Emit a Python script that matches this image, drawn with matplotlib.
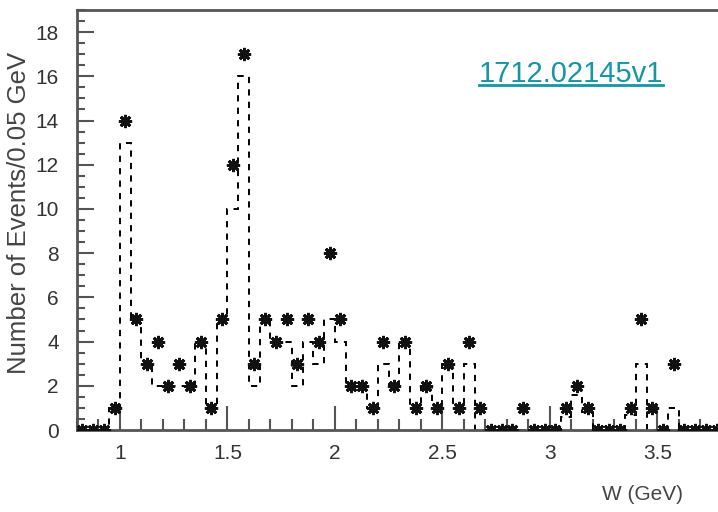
import numpy as np
import matplotlib
matplotlib.use("Agg")
import matplotlib.pyplot as plt
from matplotlib.lines import Line2D

plt.rcParams['font.family'] = ['Liberation Sans', 'DejaVu Sans']

# ---- data (0.05 GeV bins from 0.8 to 3.8 GeV) ----
bin_edges = np.round(np.arange(0.80, 3.8001, 0.05), 3)
data_counts = [0, 0, 0, 1, 14, 5, 3, 4, 2, 3,
               2, 4, 1, 5, 12, 17, 3, 5, 4, 5,
               3, 5, 4, 8, 5, 2, 2, 1, 4, 2,
               4, 1, 2, 1, 3, 1, 4, 1, 0, 0,
               0, 1, 0, 0, 0, 1, 2, 1, 0, 0,
               0, 1, 5, 1, 0, 3, 0, 0, 0, 0]
mc_counts = [0, 0, 0, 1, 13, 5, 3, 2, 2, 2,
             2, 4, 1, 5, 10, 16, 2, 5, 4, 4,
             2, 4, 3, 5, 4, 2, 2, 1, 3, 2,
             4, 1, 2, 1, 3, 1, 3, 0, 0, 0,
             0, 0, 0, 0, 0, 0.6, 1.6, 0.8, 0, 0,
             0, 0.7, 3, 0, 0, 1, 0, 0, 0, 0]
x_ticks = [1, 1.5, 2, 2.5, 3, 3.5]
x_ticklabels = ['1', '1.5', '2', '2.5', '3', '3.5']
y_ticks = [0, 2, 4, 6, 8, 10, 12, 14, 16, 18]
y_ticklabels = ['0', '2', '4', '6', '8', '10', '12', '14', '16', '18']

bin_centers = (bin_edges[:-1] + bin_edges[1:]) / 2

W, H = 718, 512
fig = plt.figure(figsize=(W / 100, H / 100), dpi=100)
ax = fig.add_axes([77 / W, 82 / H, 645 / W, 420 / H])

# dashed histogram
ax.stairs(mc_counts, bin_edges, color='black', linewidth=1.4,
          linestyle=(0, (3.2, 3.2)), baseline=0, zorder=2)

# data markers
ax.plot(bin_centers, data_counts, linestyle='none', marker=(8, 2, 0),
        markersize=9.5, markeredgewidth=2.0, color='#111111', zorder=3)
ax.plot(bin_centers, data_counts, linestyle='none', marker='s',
        markersize=4.5, color='#111111', zorder=4)

ax.set_xlim(0.8, 3.8)
ax.set_ylim(0, 19)

spine_col = '#555555'
for side in ['left', 'top', 'bottom']:
    ax.spines[side].set_color(spine_col)
    ax.spines[side].set_linewidth(2)
ax.spines['right'].set_visible(False)

ax.set_xticks(x_ticks)
ax.set_xticklabels(x_ticklabels)
ax.set_xticks(np.round(np.arange(0.8, 3.81, 0.1), 2), minor=True)
ax.set_yticks(y_ticks)
ax.set_yticklabels(y_ticklabels)
ax.set_yticks(np.arange(0, 19.01, 0.5), minor=True)

ax.tick_params(axis='x', which='major', direction='in', length=17, width=1.5,
               color=spine_col, labelcolor='#333333', labelsize=15, pad=10)
ax.tick_params(axis='x', which='minor', direction='in', length=8, width=1.5,
               color=spine_col)
ax.tick_params(axis='y', which='major', direction='in', length=12, width=1.5,
               color=spine_col, labelcolor='#333333', labelsize=15, pad=13)
ax.tick_params(axis='y', which='minor', direction='in', length=6, width=1.5,
               color=spine_col)
ax.tick_params(top=False, right=False, which='both')

fig.text(19 / W, 1 - 213 / H, 'Number of Events/0.05 GeV', rotation=90,
         ha='center', va='center', fontsize=18.5, color='#444444')
fig.text(643 / W, 1 - 495 / H, 'W (GeV)', ha='center', va='center',
         fontsize=15, color='#444444')

link_col = '#1496a4'
t = fig.text(479 / W, 1 - 81.5 / H, '1712.02145v1', ha='left', va='baseline',
             fontsize=21, color=link_col)
fig.canvas.draw()
bb = t.get_window_extent(fig.canvas.get_renderer())
uy = 1 - 84.5 / H
fig.add_artist(Line2D([bb.x0 / W, bb.x1 / W], [uy, uy], transform=fig.transFigure,
                      color=link_col, linewidth=2.0))

fig.savefig('out.png', dpi=100)
